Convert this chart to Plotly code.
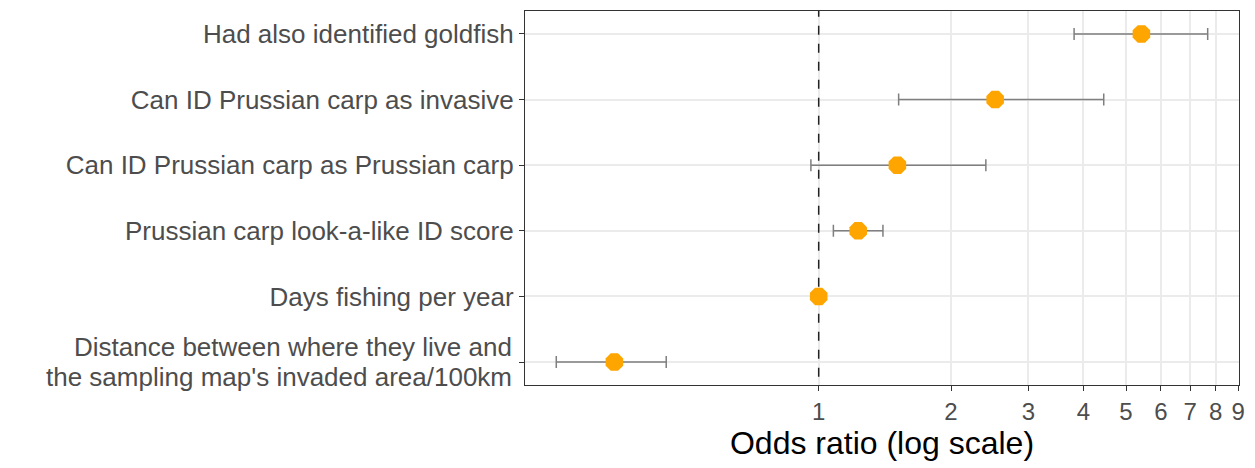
import plotly.graph_objects as go

# Predictors, top to bottom
labels = [
    "Had also identified goldfish",
    "Can ID Prussian carp as invasive",
    "Can ID Prussian carp as Prussian carp",
    "Prussian carp look-a-like ID score",
    "Days fishing per year",
    "Distance between where they live and<br>the sampling map's invaded area/100km",
]
odds_ratio = [5.42, 2.52, 1.51, 1.23, 1.00, 0.343]
ci_low = [3.81, 1.52, 0.96, 1.08, 0.995, 0.253]
ci_high = [7.67, 4.45, 2.40, 1.40, 1.005, 0.45]
x_ticks = [1, 2, 3, 4, 5, 6, 7, 8, 9]

FONT = "Liberation Sans, Arial, sans-serif"
LABEL_SIZE = 26
LABEL_COLOR = "#4d4d4d"
LINE_GAP = 30  # px between lines of a wrapped label

ypos = list(range(len(labels)))
err_plus = [h - o for h, o in zip(ci_high, odds_ratio)]
err_minus = [o - l for o, l in zip(odds_ratio, ci_low)]

# Single-line labels go on the axis; multi-line ones are set as tight annotations
tick_text = [lab if "<br>" not in lab else "" for lab in labels]

fig = go.Figure()

# Reference line at OR = 1
fig.add_trace(go.Scatter(
    x=[1, 1], y=[-0.4, 5.4], mode="lines",
    line=dict(color="#222222", width=1.5, dash="dash"),
    hoverinfo="skip", showlegend=False,
))

fig.add_trace(go.Scatter(
    x=odds_ratio, y=ypos, mode="markers",
    marker=dict(color="#FFA500", size=19, symbol="octagon"),
    error_x=dict(type="data", symmetric=False, array=err_plus,
                 arrayminus=err_minus, color="#7f7f7f", thickness=1.5, width=6),
    showlegend=False,
))

for yi, lab in zip(ypos, labels):
    if "<br>" not in lab:
        continue
    lines = lab.split("<br>")
    n = len(lines)
    for k, line in enumerate(lines):
        fig.add_annotation(
            x=0, xref="paper", y=yi, yref="y",
            text=line, showarrow=False,
            xanchor="right", yanchor="middle",
            xshift=-11, yshift=(n - 1) * LINE_GAP / 2 - k * LINE_GAP,
            font=dict(family=FONT, size=LABEL_SIZE, color=LABEL_COLOR),
        )

fig.update_layout(
    width=1255, height=468,
    margin=dict(l=525, r=12, t=10, b=83),
    paper_bgcolor="white", plot_bgcolor="white",
    font=dict(family=FONT, size=LABEL_SIZE, color=LABEL_COLOR),
)

fig.update_xaxes(
    type="log", range=[-0.668, 0.956],
    tickvals=x_ticks, ticktext=[str(v) for v in x_ticks],
    showgrid=True, gridcolor="#ebebeb", gridwidth=1.5,
    ticks="outside", ticklen=5, tickcolor="#333333",
    showline=True, linecolor="#333333", linewidth=1.2, mirror=True,
    zeroline=False,
    tickfont=dict(size=24, color=LABEL_COLOR),
    title=dict(text="Odds ratio (log scale)", font=dict(size=32, color="black"), standoff=6),
)

fig.update_yaxes(
    range=[5.35, -0.35],
    tickvals=ypos, ticktext=tick_text,
    showgrid=True, gridcolor="#ebebeb", gridwidth=1.5,
    ticks="outside", ticklen=5, tickcolor="#333333",
    showline=True, linecolor="#333333", linewidth=1.2, mirror=True,
    zeroline=False,
    tickfont=dict(size=LABEL_SIZE, color=LABEL_COLOR),
)

fig.write_html("out.html")
